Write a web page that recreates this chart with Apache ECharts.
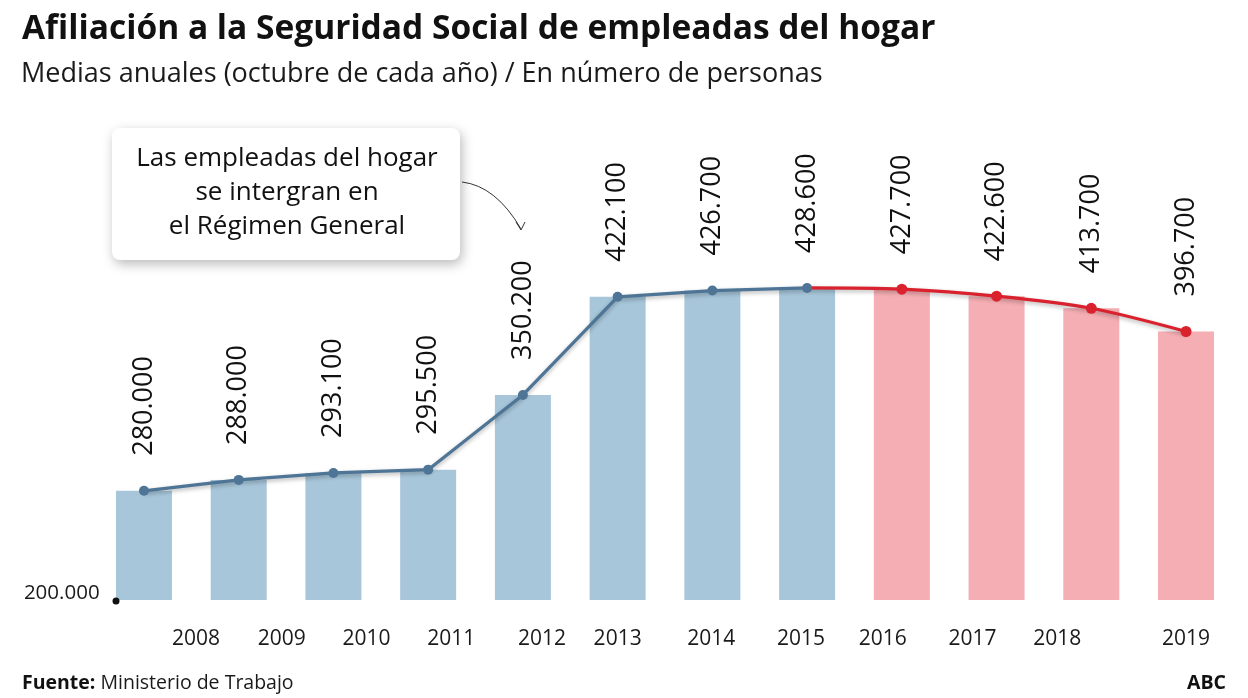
<!DOCTYPE html>
<html>
<head>
<meta charset="utf-8">
<script src="https://cdn.jsdelivr.net/npm/echarts@6/dist/echarts.min.js"></script>
<style>
  html, body { margin: 0; padding: 0; background: #fff; }
  #chart { width: 1248px; height: 698px; }
</style>
</head>
<body>
<div id="chart"></div>
<script>
// ---- data ----
const years = ['2008','2009','2010','2011','2012','2013','2014','2015','2016','2017','2018','2019'];
const afiliadas = [280000, 288000, 293100, 295500, 350200, 422100, 426700, 428600, 427700, 422600, 413700, 396700];
const lastBlueYear = '2015';
const yTickLabels = ['200.000'];
const titleText = 'Afiliación a la Seguridad Social de empleadas del hogar';
const subtitleText = 'Medias anuales (octubre de cada año) / En número de personas';
const noteText = 'Las empleadas del hogar\nse intergran en\nel Régimen General';
const sourceLabel = 'Fuente:';
const sourceText = 'Ministerio de Trabajo';
const brandText = 'ABC';

// ---- styling ----
const FONT = 'Open Sans';
const BLUE_BAR = '#a7c6da';
const PINK_BAR = '#f5aeb3';
const BLUE_LINE = '#4e7596';
const RED_LINE = '#d9222d';
const labelShift = [52, 43, 33, 23, 19, 0, -1, -6, -19, -24, -34, 0];

const splitIdx = years.indexOf(lastBlueYear);
const fmt = v => String(v).replace(/\B(?=(\d{3})+(?!\d))/g, '.');

const blueLine = afiliadas.map((v, i) => i <= splitIdx ? v : null);
const redLine = afiliadas.map((v, i) => i < splitIdx ? null : (i === splitIdx ? { value: v, symbol: 'none' } : v));

const rich = {};
labelShift.forEach((s, i) => {
  rich['k' + i] = {
    fontFamily: FONT, fontSize: 21, color: '#1a1a1a',
    padding: s >= 0 ? [0, 0, 0, 2 * s] : [0, -2 * s, 0, 0]
  };
});

const chart = echarts.init(document.getElementById('chart'), null, { renderer: 'canvas' });
chart.setOption({
  animation: false,
  backgroundColor: '#ffffff',
  textStyle: { fontFamily: FONT },
  grid: { left: 96.6, right: 14.6, top: 54, bottom: 98 },
  xAxis: {
    type: 'category',
    data: years,
    axisLine: { show: false },
    axisTick: { show: false },
    axisLabel: {
      margin: 29,
      formatter: (v, i) => '{k' + i + '|' + v + '}',
      rich: rich
    }
  },
  yAxis: {
    type: 'value',
    min: 200000,
    max: 600000,
    interval: 400000,
    splitLine: { show: false },
    axisLine: { show: false },
    axisTick: { show: false },
    axisLabel: {
      margin: -3,
      formatter: v => v === 200000 ? '{a|' + yTickLabels[0] + '}' : '',
      rich: { a: { fontFamily: FONT, fontSize: 20.5, color: '#1a1a1a', padding: [0, 0, 14, 0] } }
    }
  },
  series: [
    {
      type: 'bar',
      data: afiliadas,
      barWidth: 56,
      itemStyle: { color: p => p.dataIndex <= splitIdx ? BLUE_BAR : PINK_BAR },
      label: {
        show: true,
        position: 'top',
        distance: 35,
        rotate: 90,
        align: 'left',
        verticalAlign: 'middle',
        fontFamily: FONT,
        fontSize: 27,
        color: '#111',
        formatter: p => fmt(p.value)
      },
      z: 1
    },
    {
      type: 'line',
      data: blueLine,
      symbol: 'circle',
      symbolSize: 10,
      lineStyle: { color: BLUE_LINE, width: 3.2, shadowBlur: 4, shadowColor: 'rgba(0,0,0,0.3)', shadowOffsetY: 2 },
      itemStyle: { color: BLUE_LINE },
      z: 3
    },
    {
      type: 'line',
      data: redLine,
      smooth: 0.3,
      symbol: 'circle',
      symbolSize: 11,
      lineStyle: { color: RED_LINE, width: 3.2, shadowBlur: 4, shadowColor: 'rgba(0,0,0,0.3)', shadowOffsetY: 2 },
      itemStyle: { color: RED_LINE },
      z: 2
    }
  ],
  graphic: [
    { type: 'text', left: 22, top: 12, style: { text: titleText, font: 'bold 33.5px "' + FONT + '"', fill: '#111' } },
    { type: 'text', left: 21, top: 61, style: { text: subtitleText, font: '27px "' + FONT + '"', fill: '#1a1a1a' } },
    {
      type: 'rect', shape: { x: 112, y: 128, width: 348, height: 132, r: 8 },
      style: { fill: '#fff', shadowBlur: 12, shadowColor: 'rgba(0,0,0,0.28)', shadowOffsetX: 2, shadowOffsetY: 4 }, z: 10
    },
    {
      type: 'text', x: 287, y: 193, z: 11,
      style: { text: noteText, font: '26px "' + FONT + '"', fill: '#111', align: 'center', verticalAlign: 'middle', lineHeight: 34 }
    },
    {
      type: 'bezierCurve', z: 10,
      shape: { x1: 462, y1: 182, cpx1: 496, cpy1: 186, x2: 521, y2: 229 },
      style: { stroke: '#333', lineWidth: 1, fill: null }
    },
    {
      type: 'polyline', z: 10,
      shape: { points: [[516, 222], [521, 230], [525, 222]] },
      style: { stroke: '#333', lineWidth: 1, fill: null }
    },
    { type: 'circle', shape: { cx: 116, cy: 601, r: 3.5 }, style: { fill: '#111' }, z: 10 },
    {
      type: 'text', left: 22, top: 673,
      style: {
        text: '{b|' + sourceLabel + '} ' + sourceText,
        font: '19.5px "' + FONT + '"', fill: '#1a1a1a',
        rich: { b: { fontFamily: FONT, fontWeight: 'bold', fontSize: 19.5, fill: '#111' } }
      }
    },
    { type: 'text', right: 22, top: 673, style: { text: brandText, font: 'bold 19.5px "' + FONT + '"', fill: '#111' } }
  ]
});
</script>
</body>
</html>
